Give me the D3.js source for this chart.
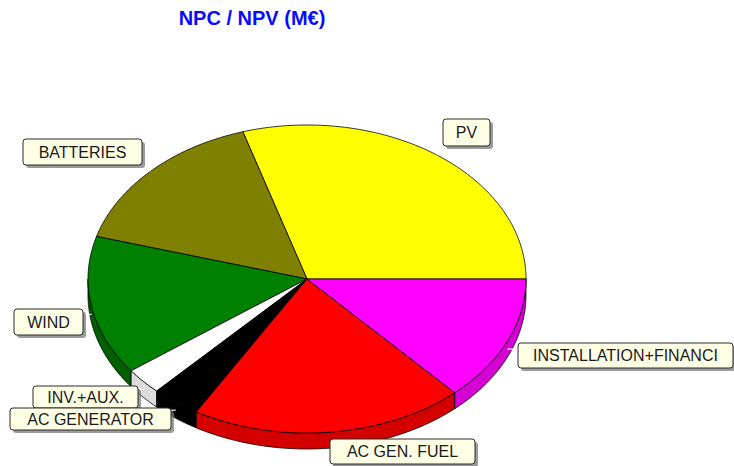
<!DOCTYPE html>
<html>
<head>
<meta charset="utf-8">
<script src="https://cdn.jsdelivr.net/npm/d3@7"></script>
<style>
  body { margin: 0; background: #fff; }
  text { font-family: "Liberation Sans", Arial, sans-serif; }
</style>
</head>
<body>
<script>
// slices, counter-clockwise from 3 o'clock
const categories = ["PV", "BATTERIES", "WIND", "INV.+AUX.", "AC GENERATOR", "AC GEN. FUEL", "INSTALLATION+FINANCI"];
const values = [29.7, 15.8, 14.6, 2.8, 3.6, 20.2, 13.2];
const topColors = ["#ffff00", "#808000", "#008000", "#ffffff", "#000000", "#ff0000", "#ff00ff"];
const sideColors = ["#d4d400", "#606000", "#006000", "#dcdcdc", "#000000", "#d40000", "#d400d4"];
// label boxes [x, y, w, h]
const labelBoxes = [
  [443, 119, 47, 27],
  [23, 139, 119, 26],
  [14, 309, 69, 26],
  [33, 386, 105, 22],
  [10, 408, 161, 22],
  [330, 439, 145, 25],
  [518, 343, 215, 25]
];

const W = 734, H = 466;
const cx = 307, cy = 279, rx = 219, ry = 154, depth = 16;

const svg = d3.select("body").append("svg")
  .attr("width", W)
  .attr("height", H);

svg.append("text")
  .attr("x", 252)
  .attr("y", 25)
  .attr("text-anchor", "middle")
  .attr("font-size", 20)
  .attr("font-weight", "bold")
  .attr("fill", "#0a0aff")
  .text("NPC / NPV (M€)");

const pie = d3.pie().sort(null).startAngle(0).endAngle(2 * Math.PI);
const arcs = pie(values);

// angle t measured counter-clockwise on screen
const px = t => cx + rx * Math.cos(t);
const py = (t, dz = 0) => cy - ry * Math.sin(t) + dz;

function arcPoints(a0, a1, dz) {
  const n = Math.max(2, Math.ceil((a1 - a0) / 0.01));
  return d3.range(n + 1).map(i => {
    const t = a0 + (a1 - a0) * i / n;
    return [px(t), py(t, dz)];
  });
}

const line = d3.line();

// outer walls for the front half (angles between PI and 2PI)
const sides = svg.append("g");
arcs.forEach((d, i) => {
  const a0 = Math.max(d.startAngle, Math.PI);
  const a1 = Math.min(d.endAngle, 2 * Math.PI);
  if (a1 <= a0) return;
  const pts = arcPoints(a0, a1, 0).concat(arcPoints(a0, a1, depth).reverse());
  sides.append("path")
    .attr("d", line(pts) + "Z")
    .attr("fill", sideColors[i])
    .attr("stroke", "#000")
    .attr("stroke-width", 0.8);
});

// top faces
const tops = svg.append("g");
arcs.forEach((d, i) => {
  const pts = [[cx, cy]].concat(arcPoints(d.startAngle, d.endAngle, 0));
  tops.append("path")
    .attr("d", line(pts) + "Z")
    .attr("fill", topColors[i])
    .attr("stroke", "#000")
    .attr("stroke-width", 0.8)
    .attr("stroke-linejoin", "round");
});

// leader ticks and labels
const labels = svg.append("g");
arcs.forEach((d, i) => {
  const m = (d.startAngle + d.endAngle) / 2;
  const b = labelBoxes[i];
  const front = m > Math.PI;
  const sx = px(m), sy = py(m, front ? depth / 2 : 0);
  const tx = Math.max(b[0], Math.min(b[0] + b[2], sx));
  const ty = Math.max(b[1], Math.min(b[1] + b[3], sy));
  labels.append("line")
    .attr("x1", sx).attr("y1", sy)
    .attr("x2", tx).attr("y2", ty)
    .attr("stroke", "#fff")
    .attr("stroke-width", 1.2);
});
arcs.forEach((d, i) => {
  const b = labelBoxes[i];
  const g = labels.append("g");
  g.append("rect")
    .attr("x", b[0] + 3).attr("y", b[1] + 3)
    .attr("width", b[2]).attr("height", b[3])
    .attr("rx", 3)
    .attr("fill", "#7a7a7a")
    .attr("opacity", 0.75);
  g.append("rect")
    .attr("x", b[0]).attr("y", b[1])
    .attr("width", b[2]).attr("height", b[3])
    .attr("rx", 3)
    .attr("fill", "#ffffe6")
    .attr("stroke", "#2a2a2a")
    .attr("stroke-width", 1);
  g.append("text")
    .attr("x", b[0] + b[2] / 2)
    .attr("y", b[1] + b[3] / 2 + 5.5)
    .attr("text-anchor", "middle")
    .attr("font-size", 16)
    .attr("fill", "#1a1a1a")
    .text(categories[i]);
});
</script>
</body>
</html>
